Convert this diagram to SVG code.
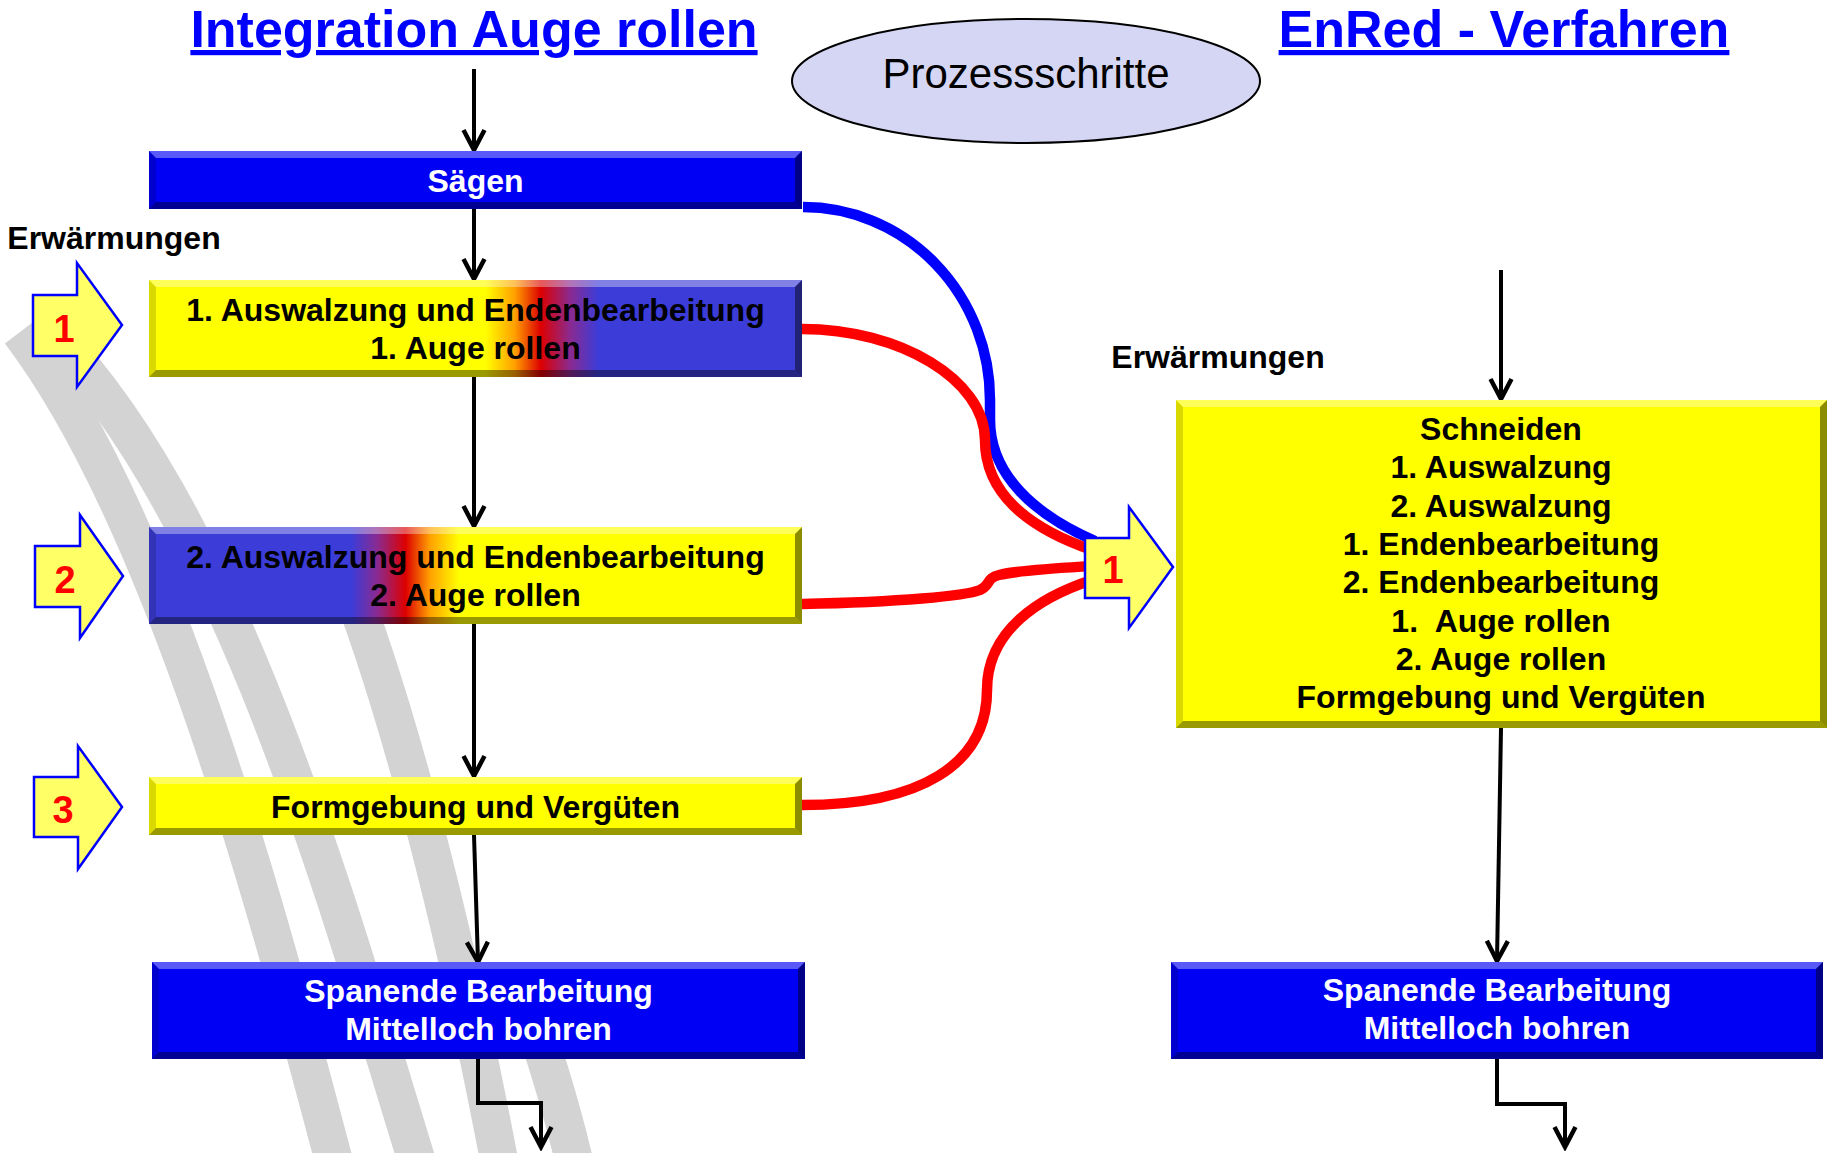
<svg xmlns="http://www.w3.org/2000/svg" width="1827" height="1153" viewBox="0 0 1827 1153">
<style>
.t{font-family:"Liberation Sans",Arial,sans-serif;font-weight:bold;font-size:32px;text-anchor:middle}
.dk{fill:#000}
.wt{fill:#fff}
.num{font-family:"Liberation Sans",Arial,sans-serif;font-weight:bold;font-size:38px;fill:#ff0000;text-anchor:middle}
.title{font-family:"Liberation Sans",Arial,sans-serif;font-weight:bold;font-size:52px;fill:#0000ff;text-anchor:middle;text-decoration:underline}
.bt{fill:#fff;opacity:.35}
.bl{fill:#000;opacity:.15}
.bb{fill:#000;opacity:.4}
.br{fill:#000;opacity:.45}
.blue{fill:#0000f4}
.yel{fill:#ffff00}
.harrow{fill:#ffff66;stroke:#0000ff;stroke-width:2.5}
.ln{fill:none;stroke:#000;stroke-width:4;marker-end:url(#ah)}
.stripe{fill:none;stroke:#d3d3d3;stroke-width:38}
.cb{fill:none;stroke:#0000ff;stroke-width:10.5}
.cr{fill:none;stroke:#ff0000;stroke-width:10.5}
</style>
<defs>
<marker id="ah" markerUnits="userSpaceOnUse" viewBox="-24 -13 28 26" refX="0" refY="0" markerWidth="28" markerHeight="26" orient="auto">
<path d="M-20,-10.5 L0,0 L-20,10.5" fill="none" stroke="#000" stroke-width="4.5" stroke-linejoin="miter"/>
</marker>
<linearGradient id="g1" x1="149" y1="0" x2="802" y2="0" gradientUnits="userSpaceOnUse">
<stop offset="0" stop-color="#ffff00"/>
<stop offset="0.515" stop-color="#ffff00"/>
<stop offset="0.56" stop-color="#ffa000"/>
<stop offset="0.60" stop-color="#dd0000"/>
<stop offset="0.645" stop-color="#8a2a90"/>
<stop offset="0.688" stop-color="#3c3cd8"/>
<stop offset="1" stop-color="#3c3cd8"/>
</linearGradient>
<linearGradient id="g2" x1="149" y1="0" x2="802" y2="0" gradientUnits="userSpaceOnUse">
<stop offset="0" stop-color="#3c3cd8"/>
<stop offset="0.31" stop-color="#3c3cd8"/>
<stop offset="0.35" stop-color="#8a2a90"/>
<stop offset="0.393" stop-color="#dd0000"/>
<stop offset="0.43" stop-color="#ffa000"/>
<stop offset="0.475" stop-color="#ffff00"/>
<stop offset="1" stop-color="#ffff00"/>
</linearGradient>
</defs>
<rect width="1827" height="1153" fill="#fff"/>

<g id="background-stripes">
<path class="stripe" d="M20,332 C170,530 275,940 335,1165"/>
<path class="stripe" d="M50,332 C235,520 345,930 418,1165"/>
<path class="stripe" d="M340,560 C380,660 440,850 500,1165"/>
<path class="stripe" d="M520,980 C540,1040 560,1100 575,1165"/>
</g>

<g id="titles">
<text class="title" x="474" y="47">Integration Auge rollen</text>
<text class="title" x="1504" y="47">EnRed - Verfahren</text>
</g>

<g id="connectors">
<path class="ln" d="M474,69 V150"/>
<path class="ln" d="M474,209 V279"/>
<path class="ln" d="M474,377 V526"/>
<path class="ln" d="M474,624 V776"/>
<path class="ln" d="M474,835 L478,962"/>
<path class="ln" d="M478,1059 V1103 H541 V1147"/>
<path class="ln" d="M1501,270 V399"/>
<path class="ln" d="M1501,728 L1497,961"/>
<path class="ln" d="M1497,1059 V1104 H1565 V1147"/>
<path class="cb" d="M803,207 A187,193 0 0 1 990,400 L990,420 C990,475 1035,515 1095,541"/>
<path class="cr" d="M802,329 C900,329 985,380 985,440 C985,500 1040,532 1092,550"/>
<path class="cr" d="M802,604 C900,602 965,596 980,590 C991,585 986,578 999,575 C1020,570 1060,568 1092,566"/>
<path class="cr" d="M802,805 C920,805 987,765 987,690 C987,630 1040,597 1092,580"/>
</g>

<g id="prozessschritte">
<ellipse cx="1026" cy="81" rx="234" ry="62" fill="#d5d6f3" stroke="#000" stroke-width="2"/>
<text x="1026" y="88" font-family="Liberation Sans, Arial, sans-serif" font-size="42" text-anchor="middle" fill="#000">Prozessschritte</text>
</g>

<g id="erw-left">
<text class="t dk" x="114" y="249">Erwärmungen</text>
</g>
<g id="erw-right">
<text class="t dk" x="1218" y="368">Erwärmungen</text>
</g>

<g id="saegen">
<rect class="blue" x="149" y="151" width="653" height="58"/>
<polygon class="bt" points="149,151 802,151 795,158 156,158"/>
<polygon class="bl" points="149,151 156,158 156,202 149,209"/>
<polygon class="bb" points="149,209 802,209 795,202 156,202"/>
<polygon class="br" points="802,151 802,209 795,202 795,158"/>
<text class="t wt" x="475.5" y="192">Sägen</text>
</g>

<g id="box1">
<rect x="149" y="280" width="653" height="97" fill="url(#g1)"/>
<polygon class="bt" points="149,280 802,280 795,287 156,287"/>
<polygon class="bl" points="149,280 156,287 156,370 149,377"/>
<polygon class="bb" points="149,377 802,377 795,370 156,370"/>
<polygon class="br" points="802,280 802,377 795,370 795,287"/>
<text class="t dk" x="475.5" y="321">1. Auswalzung und Endenbearbeitung</text>
<text class="t dk" x="475.5" y="359">1. Auge rollen</text>
</g>

<g id="box2">
<rect x="149" y="527" width="653" height="97" fill="url(#g2)"/>
<polygon class="bt" points="149,527 802,527 795,534 156,534"/>
<polygon class="bl" points="149,527 156,534 156,617 149,624"/>
<polygon class="bb" points="149,624 802,624 795,617 156,617"/>
<polygon class="br" points="802,527 802,624 795,617 795,534"/>
<text class="t dk" x="475.5" y="568">2. Auswalzung und Endenbearbeitung</text>
<text class="t dk" x="475.5" y="606">2. Auge rollen</text>
</g>

<g id="box3">
<rect class="yel" x="149" y="777" width="653" height="58"/>
<polygon class="bt" points="149,777 802,777 795,784 156,784"/>
<polygon class="bl" points="149,777 156,784 156,828 149,835"/>
<polygon class="bb" points="149,835 802,835 795,828 156,828"/>
<polygon class="br" points="802,777 802,835 795,828 795,784"/>
<text class="t dk" x="475.5" y="818">Formgebung und Vergüten</text>
</g>

<g id="box4-left">
<rect class="blue" x="152" y="962" width="653" height="97"/>
<polygon class="bt" points="152,962 805,962 798,969 159,969"/>
<polygon class="bl" points="152,962 159,969 159,1052 152,1059"/>
<polygon class="bb" points="152,1059 805,1059 798,1052 159,1052"/>
<polygon class="br" points="805,962 805,1059 798,1052 798,969"/>
<text class="t wt" x="478.5" y="1002">Spanende Bearbeitung</text>
<text class="t wt" x="478.5" y="1040">Mittelloch bohren</text>
</g>

<g id="heat1">
<polygon class="harrow" points="33,295 77,295 77,263 122,325 77,387 77,356 33,356"/>
<text class="num" x="64" y="342">1</text>
</g>
<g id="heat2">
<polygon class="harrow" points="35,546 80,546 80,515 123,576 80,638 80,607 35,607"/>
<text class="num" x="65" y="593">2</text>
</g>
<g id="heat3">
<polygon class="harrow" points="34,777 78,777 78,746 122,807 78,869 78,837 34,837"/>
<text class="num" x="63" y="823">3</text>
</g>

<g id="enred-box">
<rect class="yel" x="1176" y="400" width="651" height="328"/>
<polygon class="bt" points="1176,400 1827,400 1820,407 1183,407"/>
<polygon class="bl" points="1176,400 1183,407 1183,721 1176,728"/>
<polygon class="bb" points="1176,728 1827,728 1820,721 1183,721"/>
<polygon class="br" points="1827,400 1827,728 1820,721 1820,407"/>
<text class="t dk" x="1501" y="440">Schneiden</text>
<text class="t dk" x="1501" y="478">1. Auswalzung</text>
<text class="t dk" x="1501" y="517">2. Auswalzung</text>
<text class="t dk" x="1501" y="555">1. Endenbearbeitung</text>
<text class="t dk" x="1501" y="593">2. Endenbearbeitung</text>
<text class="t dk" x="1501" y="632">1.&#160; Auge rollen</text>
<text class="t dk" x="1501" y="670">2. Auge rollen</text>
<text class="t dk" x="1501" y="708">Formgebung und Vergüten</text>
</g>

<g id="heat-right">
<polygon class="harrow" points="1085,538 1129,538 1129,507 1173,567 1129,628 1129,598 1085,598"/>
<text class="num" x="1113" y="583">1</text>
</g>

<g id="box4-right">
<rect class="blue" x="1171" y="962" width="652" height="97"/>
<polygon class="bt" points="1171,962 1823,962 1816,969 1178,969"/>
<polygon class="bl" points="1171,962 1178,969 1178,1052 1171,1059"/>
<polygon class="bb" points="1171,1059 1823,1059 1816,1052 1178,1052"/>
<polygon class="br" points="1823,962 1823,1059 1816,1052 1816,969"/>
<text class="t wt" x="1497" y="1001">Spanende Bearbeitung</text>
<text class="t wt" x="1497" y="1039">Mittelloch bohren</text>
</g>
</svg>
